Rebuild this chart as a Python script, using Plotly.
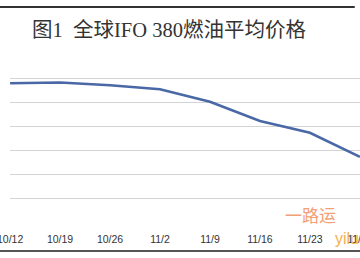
import plotly.graph_objects as go

dates = ["10/12", "10/19", "10/26", "11/2", "11/9", "11/16", "11/23", "11/30"]
prices = [496, 496.6, 494.3, 491, 480.5, 464.5, 454.8, 434.7]
title_text = "图1  全球IFO 380燃油平均价格"

x_idx = list(range(len(dates)))

fig = go.Figure()
fig.add_trace(go.Scatter(
    x=x_idx, y=prices, mode="lines",
    line=dict(color="#4a68a6", width=2.6),
    cliponaxis=True, showlegend=False, hoverinfo="skip"))

fig.update_layout(
    width=360, height=258,
    margin=dict(l=10, r=0, t=54, b=35, autoexpand=False),
    paper_bgcolor="white", plot_bgcolor="white",
    xaxis=dict(
        range=[-0.002, 7.002], tickmode="array", tickvals=x_idx, ticktext=dates,
        showgrid=False, zeroline=False, showline=False,
        ticks="outside", ticklen=6, tickcolor="rgba(0,0,0,0)",
        ticklabeloverflow="allow", automargin=False,
        tickfont=dict(family="Liberation Sans, Arial, sans-serif", size=10.5, color="#333333"),
        fixedrange=True),
    yaxis=dict(
        range=[379.7, 520.3], tickmode="array", tickvals=[380, 400, 420, 440, 460, 480, 500, 520],
        showticklabels=False, automargin=False,
        showgrid=True, gridcolor="#d4d4d4", gridwidth=1,
        zeroline=False, showline=False, fixedrange=True),
    shapes=[
        dict(type="line", xref="paper", yref="paper", x0=-0.03, x1=0.985, y0=1.0 + 47/169, y1=1.0 + 47/169,
             line=dict(color="#333333", width=2)),
        dict(type="line", xref="paper", yref="paper", x0=-0.03, x1=1.0, y0=-28/169, y1=-28/169,
             line=dict(color="#555555", width=2)),
    ],
    annotations=[
        dict(text=title_text, xref="paper", yref="paper", x=(30 - 10) / 350, y=1.0 + 24/169,
             xanchor="left", yanchor="middle", showarrow=False,
             font=dict(family="Liberation Serif, Noto Sans CJK SC, serif", size=20.5, color="#333333")),
        dict(text="一路运", xref="paper", yref="paper", x=(283 - 10) / 350, y=(223 - 214) / 169,
             xanchor="left", yanchor="middle", showarrow=False,
             font=dict(family="Noto Sans CJK SC, sans-serif", size=17, color="#f2a074")),
        dict(text="yilu", xref="paper", yref="paper", x=(333 - 10) / 350, y=(223 - 238) / 169,
             xanchor="left", yanchor="middle", showarrow=False,
             font=dict(family="Liberation Sans, Arial, sans-serif", size=16, color="#f2b24e")),
    ],
)

fig.write_html("out.html")
